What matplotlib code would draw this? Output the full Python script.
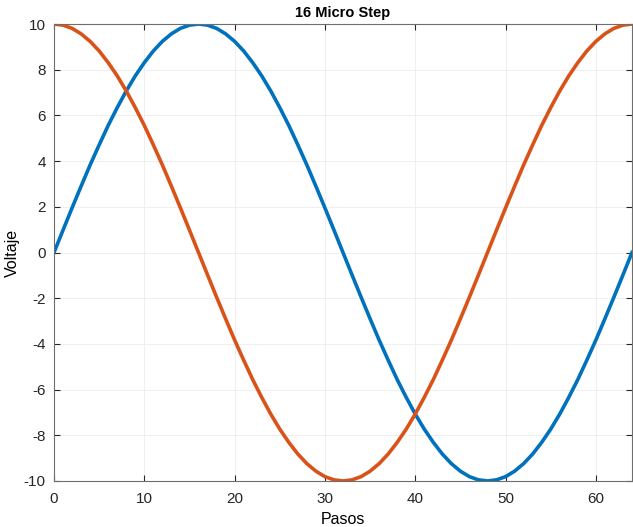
import matplotlib
matplotlib.use("Agg")
import matplotlib.pyplot as plt

pasos = list(range(65))
seno = [0, 0.98, 1.95, 2.90, 3.83, 4.71, 5.56, 6.34, 7.07, 7.73, 8.31, 8.82, 9.24, 9.57, 9.81, 9.95, 10,
        9.95, 9.81, 9.57, 9.24, 8.82, 8.31, 7.73, 7.07, 6.34, 5.56, 4.71, 3.83, 2.90, 1.95, 0.98, 0,
        -0.98, -1.95, -2.90, -3.83, -4.71, -5.56, -6.34, -7.07, -7.73, -8.31, -8.82, -9.24, -9.57, -9.81, -9.95, -10,
        -9.95, -9.81, -9.57, -9.24, -8.82, -8.31, -7.73, -7.07, -6.34, -5.56, -4.71, -3.83, -2.90, -1.95, -0.98, 0]
coseno = [10, 9.95, 9.81, 9.57, 9.24, 8.82, 8.31, 7.73, 7.07, 6.34, 5.56, 4.71, 3.83, 2.90, 1.95, 0.98, 0,
          -0.98, -1.95, -2.90, -3.83, -4.71, -5.56, -6.34, -7.07, -7.73, -8.31, -8.82, -9.24, -9.57, -9.81, -9.95, -10,
          -9.95, -9.81, -9.57, -9.24, -8.82, -8.31, -7.73, -7.07, -6.34, -5.56, -4.71, -3.83, -2.90, -1.95, -0.98, 0,
          0.98, 1.95, 2.90, 3.83, 4.71, 5.56, 6.34, 7.07, 7.73, 8.31, 8.82, 9.24, 9.57, 9.81, 9.95, 10]
xticks = [0, 10, 20, 30, 40, 50, 60]
yticks = [-10, -8, -6, -4, -2, 0, 2, 4, 6, 8, 10]

plt.rcParams['font.family'] = ['Liberation Sans', 'DejaVu Sans']
plt.rcParams['axes.unicode_minus'] = False

fig = plt.figure(figsize=(6.33, 5.27), dpi=100)
ax = fig.add_axes([54/633, 1 - 481/527, 578/633, 457/527])

ax.plot(pasos, seno, color='#0072BD', lw=2.6)
ax.plot(pasos, coseno, color='#D95319', lw=2.6)

ax.set_xlim(0, 64)
ax.set_ylim(-10, 10)
ax.set_xticks(xticks)
ax.set_yticks(yticks)
ax.tick_params(direction='in', top=True, right=True, labelsize=11, colors='#262626', length=4)
ax.tick_params(axis='x', pad=8)
ax.tick_params(axis='y', pad=6)
ax.grid(True, color='#ececec', lw=0.6)
for s in ax.spines.values():
    s.set_color('#6e6e6e')
    s.set_linewidth(0.8)

ax.set_title('16 Micro Step', fontsize=10.5, fontweight='bold', pad=5)
ax.set_xlabel('Pasos', fontsize=11.5, labelpad=4)
ax.set_ylabel('Voltaje', fontsize=11.5, labelpad=3)

fig.savefig('out.png', dpi=100)
